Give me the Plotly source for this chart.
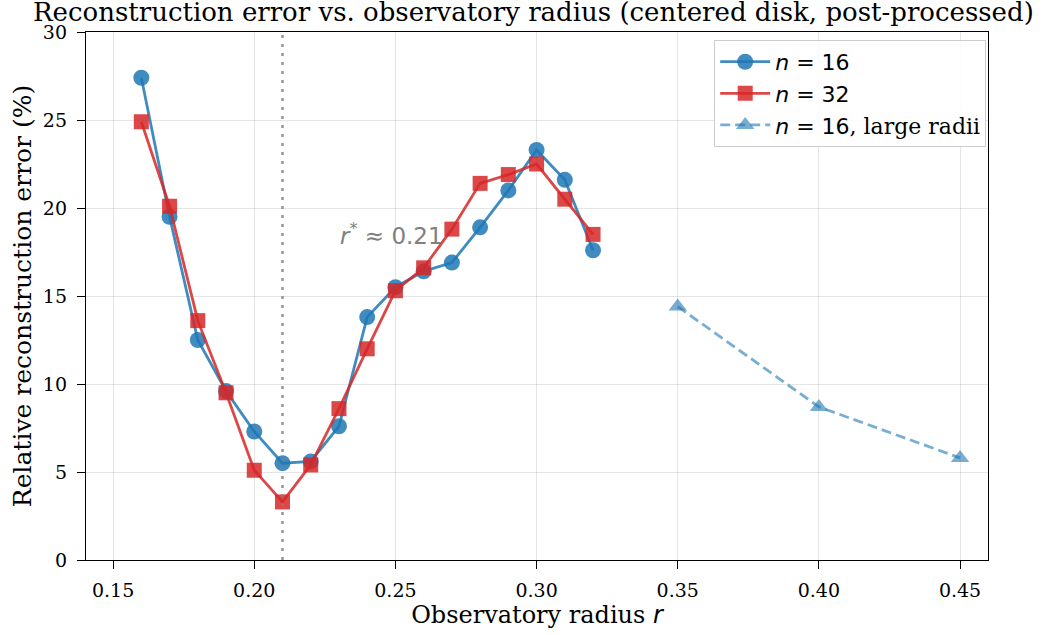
import plotly.graph_objects as go

# Observatory radii and relative reconstruction errors (%)
radius = [0.16, 0.17, 0.18, 0.19, 0.20, 0.21, 0.22, 0.23, 0.24, 0.25,
          0.26, 0.27, 0.28, 0.29, 0.30, 0.31, 0.32]
err_n16 = [27.4, 19.5, 12.5, 9.6, 7.3, 5.5, 5.6, 7.6, 13.8, 15.5,
           16.4, 16.9, 18.9, 21.0, 23.3, 21.6, 17.6]
err_n32 = [24.9, 20.1, 13.6, 9.5, 5.1, 3.3, 5.4, 8.6, 12.0, 15.3,
           16.6, 18.8, 21.4, 21.9, 22.5, 20.5, 18.5]
radius_large = [0.35, 0.40, 0.45]
err_n16_large = [14.4, 8.7, 5.8]
r_star = 0.21

x_ticks = [0.15, 0.20, 0.25, 0.30, 0.35, 0.40, 0.45]
y_ticks = [0, 5, 10, 15, 20, 25, 30]

SERIF = "DejaVu Serif"
SANS = "DejaVu Sans"
BLUE = "rgba(31,119,180,0.85)"
RED = "rgba(214,39,40,0.85)"
LIGHT = "rgba(31,119,180,0.6)"

fig = go.Figure()
fig.add_trace(go.Scatter(
    x=radius, y=err_n16, mode="lines+markers",
    name="<i>n</i> = 16",
    line=dict(color=BLUE, width=2.8),
    marker=dict(symbol="circle", size=16, color=BLUE),
))
fig.add_trace(go.Scatter(
    x=radius, y=err_n32, mode="lines+markers",
    name="<i>n</i> = 32",
    line=dict(color=RED, width=2.8),
    marker=dict(symbol="square", size=15, color=RED),
))
fig.add_trace(go.Scatter(
    x=radius_large, y=err_n16_large, mode="lines+markers",
    name="<i>n</i> = 16<span style='font-family:DejaVu Serif'>, large radii</span>",
    line=dict(color=LIGHT, width=2.8, dash="10px,5px"),
    marker=dict(symbol="triangle-up", size=16, color=LIGHT),
))

# optimal radius marker
fig.add_shape(type="line", x0=r_star, x1=r_star, y0=0, y1=1, yref="paper",
              line=dict(color="rgba(128,128,128,0.8)", width=2.6, dash="3px,6px"))
fig.add_annotation(x=0.2297, y=18.5, xanchor="left", yanchor="middle",
                   text="<i>r</i><sup>*</sup> ≈ 0.21", showarrow=False,
                   font=dict(family=SANS, size=23, color="#808080"))

fig.update_layout(
    width=1050, height=635,
    margin=dict(l=86, r=62, t=32, b=75),
    plot_bgcolor="white", paper_bgcolor="white",
    font=dict(family=SERIF, size=19, color="black"),
    title=dict(text="Reconstruction error vs. observatory radius (centered disk, post-processed)",
               x=0.508, xanchor="center", yref="container", y=1.0, yanchor="top",
               pad=dict(t=3), font=dict(family=SERIF, size=26)),
    legend=dict(x=0.998, xanchor="right", y=0.985, yanchor="top",
                bgcolor="rgba(255,255,255,0.85)", bordercolor="#cccccc", borderwidth=1,
                font=dict(family=SANS, size=22), itemwidth=50, tracegroupgap=2),
    xaxis=dict(range=[0.1404, 0.4599], tickvals=x_ticks, tickformat=".2f",
               showgrid=True, gridcolor="rgba(0,0,0,0.1)", gridwidth=1,
               showline=True, linecolor="black", linewidth=1.3, mirror=True,
               ticks="outside", ticklen=8, tickcolor="black", zeroline=False,
               ticklabelstandoff=5,
               tickfont=dict(family=SERIF, size=19),
               title=dict(text="Observatory radius <span style='font-family:DejaVu Sans'><i>r</i></span>",
                          font=dict(family=SERIF, size=24), standoff=2)),
    yaxis=dict(range=[0, 30], tickvals=y_ticks,
               showgrid=True, gridcolor="rgba(0,0,0,0.1)", gridwidth=1,
               showline=True, linecolor="black", linewidth=1.3, mirror=True,
               ticks="outside", ticklen=8, tickcolor="black", zeroline=False,
               ticklabelstandoff=6,
               tickfont=dict(family=SERIF, size=19),
               title=dict(text="Relative reconstruction error (%)",
                          font=dict(family=SERIF, size=25), standoff=4)),
)

fig.write_html("out.html")
